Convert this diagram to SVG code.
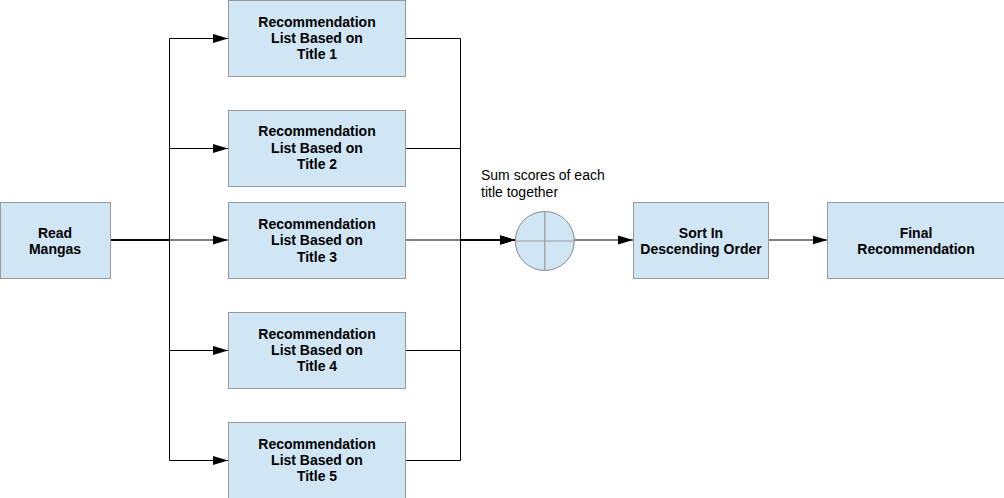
<svg xmlns="http://www.w3.org/2000/svg" width="1004" height="498" viewBox="0 0 1004 498">
<defs>
<marker id="arr" markerUnits="userSpaceOnUse" markerWidth="16" markerHeight="10" refX="15" refY="5" orient="auto">
<path d="M0,0.5 L15,5 L0,9.5 Z" fill="#000"/>
</marker>
<style>
.box{fill:#d0e6f4;stroke:#999;stroke-width:1}
.t{font-family:"Liberation Sans",Arial,sans-serif;font-size:14px;font-weight:bold;fill:#000;text-anchor:middle}
.n{font-family:"Liberation Sans",Arial,sans-serif;font-size:14px;fill:#000}
.c{fill:none;stroke:#000;stroke-width:1}
.x{stroke:#999;stroke-width:1.2}
</style>
</defs>
<rect width="1004" height="498" fill="#fff"/>
<g id="connectors">
<path class="c" d="M110,240 H169.5 V38.5 H228" marker-end="url(#arr)"/>
<path class="c" d="M110,240 H169.5 V148.5 H228" marker-end="url(#arr)"/>
<path class="c" d="M110,240 H228" marker-end="url(#arr)"/>
<path class="c" d="M110,240 H169.5 V350.5 H228" marker-end="url(#arr)"/>
<path class="c" d="M110,240 H169.5 V460.5 H228" marker-end="url(#arr)"/>
<path class="c" d="M405.5,38.5 H460.5 V240 H515" marker-end="url(#arr)"/>
<path class="c" d="M405.5,148.5 H460.5 V240 H515" marker-end="url(#arr)"/>
<path class="c" d="M405.5,240 H515" marker-end="url(#arr)"/>
<path class="c" d="M405.5,350.5 H460.5 V240 H515" marker-end="url(#arr)"/>
<path class="c" d="M405.5,460.5 H460.5 V240 H515" marker-end="url(#arr)"/>
<path class="c" d="M574.5,240 H633" marker-end="url(#arr)"/>
<path class="c" d="M768.5,240 H827.5" marker-end="url(#arr)"/>
</g>
<g id="read">
<rect class="box" x="0.5" y="202.5" width="110" height="76"/>
<text class="t" x="55" y="237.5">Read</text>
<text class="t" x="55" y="254">Mangas</text>
</g>
<g id="title1">
<rect class="box" x="228.5" y="0.5" width="177" height="76"/>
<text class="t" x="317" y="27">Recommendation</text>
<text class="t" x="317" y="43">List Based on</text>
<text class="t" x="317" y="59">Title 1</text>
</g>
<g id="title2">
<rect class="box" x="228.5" y="110.5" width="177" height="76"/>
<text class="t" x="317" y="136">Recommendation</text>
<text class="t" x="317" y="152.5">List Based on</text>
<text class="t" x="317" y="169">Title 2</text>
</g>
<g id="title3">
<rect class="box" x="228.5" y="202.5" width="177" height="76"/>
<text class="t" x="317" y="229">Recommendation</text>
<text class="t" x="317" y="245">List Based on</text>
<text class="t" x="317" y="262">Title 3</text>
</g>
<g id="title4">
<rect class="box" x="228.5" y="312.5" width="177" height="76"/>
<text class="t" x="317" y="339">Recommendation</text>
<text class="t" x="317" y="355">List Based on</text>
<text class="t" x="317" y="371">Title 4</text>
</g>
<g id="title5">
<rect class="box" x="228.5" y="422.5" width="177" height="76"/>
<text class="t" x="317" y="449">Recommendation</text>
<text class="t" x="317" y="465">List Based on</text>
<text class="t" x="317" y="481">Title 5</text>
</g>
<g id="sum">
<circle cx="544.8" cy="241" r="29.5" fill="#d0e6f4" stroke="#888" stroke-width="1"/>
<line class="x" x1="544.8" y1="211.5" x2="544.8" y2="270.5"/>
<line class="x" x1="515.3" y1="241" x2="574.3" y2="241"/>
<text class="n" x="481" y="180">Sum scores of each</text>
<text class="n" x="481" y="196.5">title together</text>
</g>
<g id="sort">
<rect class="box" x="633.5" y="202.5" width="135" height="76"/>
<text class="t" x="701" y="237.5">Sort In</text>
<text class="t" x="701" y="254">Descending Order</text>
</g>
<g id="final">
<rect class="box" x="827.5" y="202.5" width="177" height="76"/>
<text class="t" x="916" y="237.5">Final</text>
<text class="t" x="916" y="254">Recommendation</text>
</g>
</svg>
